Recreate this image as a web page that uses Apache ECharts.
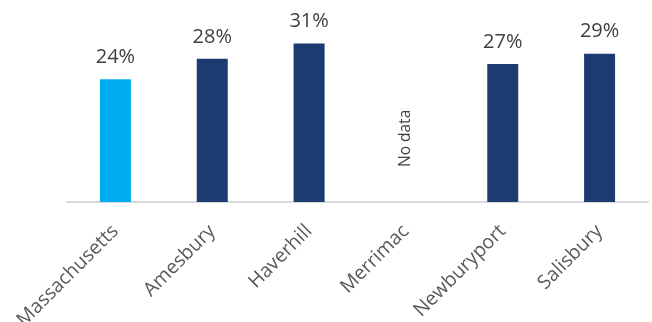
<!DOCTYPE html>
<html>
<head>
<meta charset="utf-8">
<script src="https://cdn.jsdelivr.net/npm/echarts@6/dist/echarts.min.js"></script>
<style>
  html, body { margin: 0; padding: 0; background: #ffffff; }
  #chart { width: 652px; height: 322px; }
</style>
</head>
<body>
<div id="chart"></div>
<script>
// Share of residents, by place (percent); Merrimac has no value
const categories = ['Massachusetts', 'Amesbury', 'Haverhill', 'Merrimac', 'Newburyport', 'Salisbury'];
const values = [24, 28, 31, null, 27, 29];
const noDataText = ['', '', '', 'No data', '', ''];
const stateColor = '#00aeef';
const townColor = '#1b3b71';

const FONT = 'Open Sans';

const barData = values.map((v, i) => ({
  value: v === null ? '-' : v,
  itemStyle: { color: i === 0 ? stateColor : townColor }
}));

// invisible zero-height bars that carry the "No data" note
const noteData = noDataText.map(t => (t ? { value: 0, label: { formatter: t } } : '-'));

const chart = echarts.init(document.getElementById('chart'), null, { renderer: 'canvas' });
chart.setOption({
  animation: false,
  grid: {
    left: 67, right: 4, top: 23, bottom: 120,
    containLabel: false,
    outerBoundsMode: 'none'
  },
  xAxis: {
    type: 'category',
    data: categories,
    axisLine: { show: true, lineStyle: { color: '#d9d9d9', width: 2 } },
    axisTick: { show: false },
    axisLabel: {
      interval: 0,
      rotate: 45,
      margin: 12,
      verticalAlign: 'top',
      padding: [0, 10, 0, 0],
      fontFamily: FONT,
      fontSize: 19.5,
      color: '#595959'
    }
  },
  yAxis: {
    type: 'value',
    min: 0,
    max: 35,
    show: false,
    splitLine: { show: false }
  },
  series: [
    {
      type: 'bar',
      data: barData,
      barWidth: 31,
      label: {
        show: true,
        position: 'top',
        distance: 12,
        formatter: p => p.value + '%',
        fontFamily: FONT,
        fontSize: 20,
        color: '#404040'
      }
    },
    {
      type: 'bar',
      data: noteData,
      barWidth: 31,
      barGap: '-100%',
      itemStyle: { color: 'rgba(0,0,0,0)' },
      label: {
        show: true,
        position: 'top',
        distance: 35,
        rotate: 90,
        align: 'left',
        verticalAlign: 'middle',
        fontFamily: FONT,
        fontSize: 15.5,
        color: '#404040'
      }
    }
  ]
});
</script>
</body>
</html>
